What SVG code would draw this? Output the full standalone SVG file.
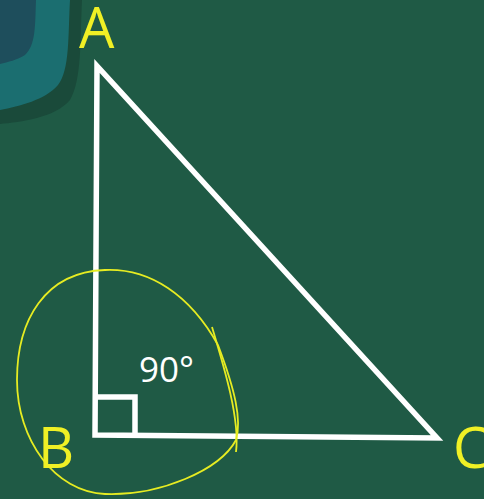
<svg xmlns="http://www.w3.org/2000/svg" width="484" height="499" viewBox="0 0 484 499">
<style>
.lbl{font-family:"Open Sans","DejaVu Sans",sans-serif;fill:#f0f025;font-size:56px}
.edge{fill:none;stroke:#ffffff;stroke-width:5.5;stroke-linejoin:miter}
.ink{fill:none;stroke:#e6ec22;stroke-width:1.8}
</style>
<rect width="484" height="499" fill="#1f5a45"/>
<g id="blob">
<path d="M0,0 H82 C80,40 82,80 70,100 C55,118 20,122 0,124 Z" fill="#1a4a3a"/>
<path d="M0,0 H70 C68,35 70,70 58,85 C45,100 20,106 0,110 Z" fill="#1b6e70"/>
<path d="M0,0 H36 C35,25 36,45 25,55 C17,60 8,62 0,64 Z" fill="#1e4e5c"/>
</g>
<g id="connectors">
<path class="edge" d="M97,66 L95,435 L437,438 Z"/>
<path class="edge" d="M95,397 H135 V434"/>
<path class="ink" d="M212,327 C225,370 240,420 236,452"/>
<path class="ink" d="M218,345 C190,295 150,268 105,270 C45,272 17,320 17,380 C17,440 55,492 105,494 C160,496 220,470 236,440 C242,420 235,390 218,345"/>
</g>
<g id="nodeA"><text class="lbl" x="79" y="48">A</text></g>
<g id="nodeB"><text class="lbl" x="38" y="468">B</text></g>
<g id="nodeC"><text class="lbl" x="453" y="468">C</text></g>
<g id="angle"><text x="139" y="382" font-family="Open Sans, DejaVu Sans, sans-serif" font-size="35" fill="#ffffff">90°</text></g>
</svg>
